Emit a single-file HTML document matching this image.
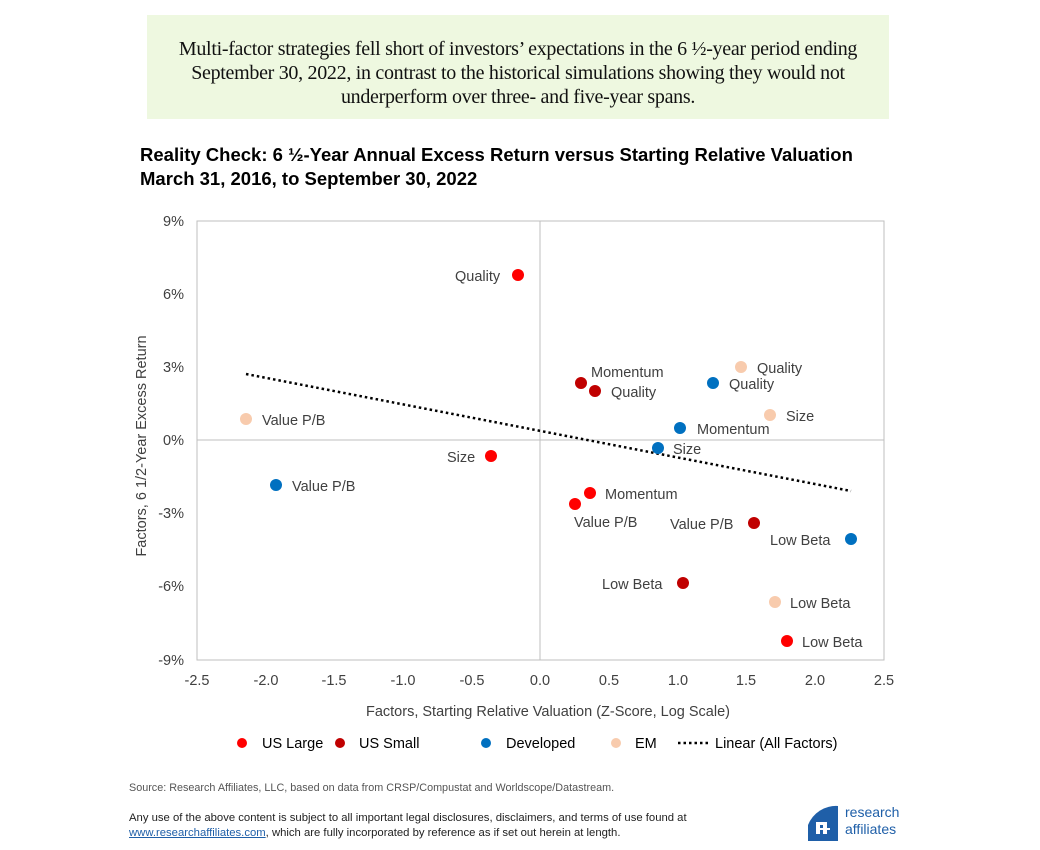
<!DOCTYPE html>
<html><head><meta charset="utf-8"><style>
body{margin:0;background:#fff;width:1040px;height:850px;position:relative;overflow:hidden;font-family:"Liberation Sans",Arial,sans-serif}
.box{position:absolute;left:147px;top:15px;width:742px;height:104px;background:#eef8e0}
.box p{margin:0;position:absolute;top:22px;left:0;width:742px;text-align:center;font-family:"Liberation Serif",serif;font-size:20px;line-height:24px;color:#111;letter-spacing:-0.3px}
.title{position:absolute;left:140px;top:143px;font-weight:bold;font-size:18.5px;line-height:24px;color:#000}
.src{position:absolute;left:129px;top:782px;font-size:10.8px;color:#555}
.disc{position:absolute;left:129px;top:811px;font-size:11.3px;line-height:15px;color:#222}
.disc a{color:#1f5fa8;text-decoration:underline}
</style></head><body>
<div class="box"><p>Multi-factor strategies fell short of investors’ expectations in the 6 ½-year period ending<br>September 30, 2022, in contrast to the historical simulations showing they would not<br>underperform over three- and five-year spans.</p></div>
<div class="title">Reality Check: 6 ½-Year Annual Excess Return versus Starting Relative Valuation<br>March 31, 2016, to September 30, 2022</div>
<svg width="1040" height="850" style="position:absolute;left:0;top:0" font-family="Liberation Sans, Arial, sans-serif">
<rect x="197" y="221" width="687" height="439" fill="none" stroke="#bfbfbf"/>
<line x1="540" y1="221" x2="540" y2="660" stroke="#bfbfbf"/>
<line x1="197" y1="440" x2="884" y2="440" stroke="#bfbfbf"/>
<g font-size="14.5" fill="#404040" text-anchor="end">
<text x="184" y="226">9%</text><text x="184" y="299">6%</text><text x="184" y="372">3%</text><text x="184" y="445">0%</text><text x="184" y="518">-3%</text><text x="184" y="591">-6%</text><text x="184" y="665">-9%</text>
</g>
<g font-size="14.5" fill="#404040" text-anchor="middle">
<text x="197" y="685">-2.5</text><text x="266" y="685">-2.0</text><text x="334" y="685">-1.5</text><text x="403" y="685">-1.0</text><text x="472" y="685">-0.5</text><text x="540" y="685">0.0</text><text x="609" y="685">0.5</text><text x="678" y="685">1.0</text><text x="746" y="685">1.5</text><text x="815" y="685">2.0</text><text x="884" y="685">2.5</text>
<text x="548" y="716">Factors, Starting Relative Valuation (Z-Score, Log Scale)</text>
<text transform="translate(146,446) rotate(-90)">Factors, 6 1/2-Year Excess Return</text>
</g>
<line x1="246" y1="374" x2="851" y2="491" stroke="#000" stroke-width="2.5" stroke-dasharray="2.5,3"/>
<g fill="#ff0000"><circle cx="518" cy="275" r="6"/><circle cx="491" cy="456" r="6"/><circle cx="590" cy="493" r="6"/><circle cx="575" cy="504" r="6"/><circle cx="787" cy="641" r="6"/></g>
<g fill="#c00000"><circle cx="581" cy="383" r="6"/><circle cx="595" cy="391" r="6"/><circle cx="754" cy="523" r="6"/><circle cx="683" cy="583" r="6"/></g>
<g fill="#0070c0"><circle cx="276" cy="485" r="6"/><circle cx="658" cy="448" r="6"/><circle cx="680" cy="428" r="6"/><circle cx="713" cy="383" r="6"/><circle cx="851" cy="539" r="6"/></g>
<g fill="#f8cbad"><circle cx="246" cy="419" r="6"/><circle cx="741" cy="367" r="6"/><circle cx="770" cy="415" r="6"/><circle cx="775" cy="602" r="6"/></g>
<g font-size="14.5" fill="#404040">
<text x="455" y="281">Quality</text>
<text x="447" y="462">Size</text>
<text x="605" y="499">Momentum</text>
<text x="574" y="527">Value P/B</text>
<text x="802" y="647">Low Beta</text>
<text x="591" y="377">Momentum</text>
<text x="611" y="397">Quality</text>
<text x="670" y="529">Value P/B</text>
<text x="602" y="589">Low Beta</text>
<text x="292" y="491">Value P/B</text>
<text x="673" y="454">Size</text>
<text x="697" y="434">Momentum</text>
<text x="729" y="389">Quality</text>
<text x="770" y="545">Low Beta</text>
<text x="262" y="425">Value P/B</text>
<text x="757" y="373">Quality</text>
<text x="786" y="421">Size</text>
<text x="790" y="608">Low Beta</text>
</g>
<g font-size="14.5" fill="#000">
<circle cx="242" cy="743" r="5" fill="#ff0000"/><text x="262" y="748">US Large</text>
<circle cx="340" cy="743" r="5" fill="#c00000"/><text x="359" y="748">US Small</text>
<circle cx="486" cy="743" r="5" fill="#0070c0"/><text x="506" y="748">Developed</text>
<circle cx="616" cy="743" r="5" fill="#f8cbad"/><text x="635" y="748">EM</text>
<line x1="678" y1="743" x2="708" y2="743" stroke="#000" stroke-width="2.5" stroke-dasharray="2.5,3"/><text x="715" y="748">Linear (All Factors)</text>
</g>
<path d="M808,841 V825 A30,30 0 0 1 838,806 V841 Z" fill="#1f5fa8"/>
<g fill="#fff"><rect x="816" y="822" width="4" height="12"/><rect x="823" y="822" width="4" height="12"/><rect x="816" y="822" width="11" height="3"/><rect x="816" y="828" width="14" height="2"/></g>
<text x="845" y="817" font-size="14" fill="#1f5fa8">research</text>
<text x="845" y="834" font-size="14" fill="#1f5fa8">affiliates</text>
</svg>
<div class="src">Source: Research Affiliates, LLC, based on data from CRSP/Compustat and Worldscope/Datastream.</div>
<div class="disc">Any use of the above content is subject to all important legal disclosures, disclaimers, and terms of use found at<br><a>www.researchaffiliates.com</a>, which are fully incorporated by reference as if set out herein at length.</div>
</body></html>
